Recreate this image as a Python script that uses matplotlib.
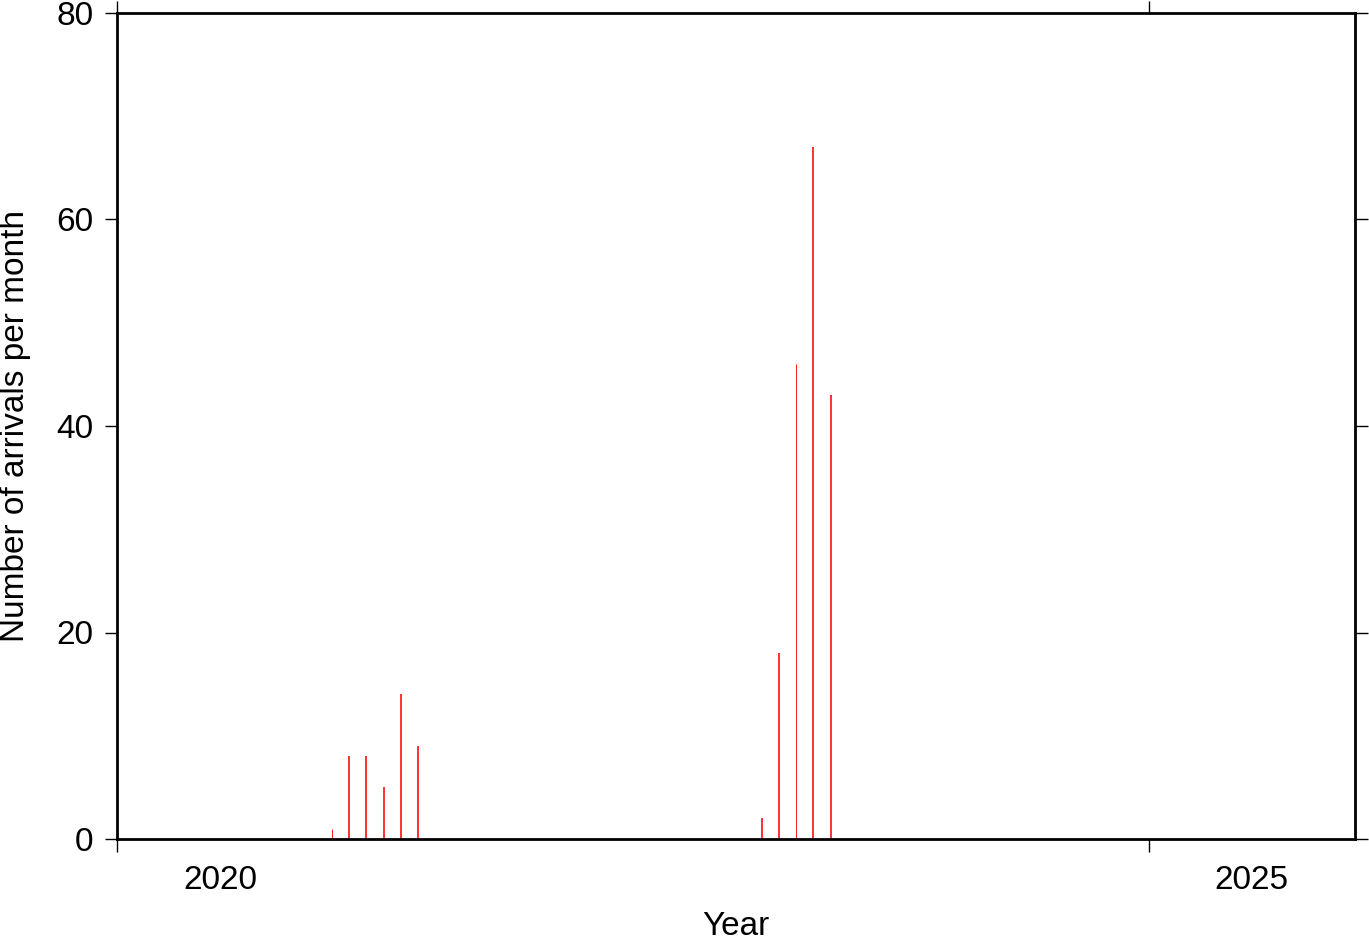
import numpy as np
import matplotlib
matplotlib.use("Agg")
import matplotlib.pyplot as plt
from matplotlib.ticker import FixedLocator, NullFormatter, FixedFormatter

# monthly arrival counts
months = ["2021-01", "2021-02", "2021-03", "2021-04", "2021-05", "2021-06",
          "2023-02", "2023-03", "2023-04", "2023-05", "2023-06"]
counts = [1, 8, 8, 5, 14, 9, 2, 18, 46, 67, 43]
widths = [1.0, 1.8, 1.8, 1.8, 1.8, 1.8, 1.8, 1.8, 1.0, 1.8, 1.8]

year_ticks = [2020, 2025]
year_labels = ["2020", "2025"]
y_ticks = [0, 20, 40, 60, 80]


def month_to_year(m):
    y, mo = m.split("-")
    return int(y) + (int(mo) - 0.5) / 12.0


plt.rcParams.update({
    "font.family": ["Liberation Sans", "DejaVu Sans"],
    "font.size": 24,
})

fig = plt.figure(figsize=(13.69, 9.42), dpi=100)
ax = fig.add_axes([117 / 1369, 1 - 839 / 942, (1355 - 117) / 1369, (839 - 13) / 942])

xs = [month_to_year(m) for m in months]
for x, c, w in zip(xs, counts, widths):
    ax.vlines(x, 0, c, color="#ff2020", lw=w * 0.72)

ax.set_xlim(2020, 2026)
ax.set_ylim(0, 80)

# major ticks at the year start, labels centred in the year interval
ax.xaxis.set_major_locator(FixedLocator(year_ticks))
ax.xaxis.set_major_formatter(NullFormatter())
ax.xaxis.set_minor_locator(FixedLocator([y + 0.5 for y in year_ticks]))
ax.xaxis.set_minor_formatter(FixedFormatter(year_labels))
ax.tick_params(axis="x", which="major", direction="out", length=9, width=1,
               top=True, bottom=True)
ax.tick_params(axis="x", which="minor", length=0, pad=19, labelsize=24)

ax.set_yticks(y_ticks)
ax.tick_params(axis="y", direction="out", length=9, width=1, left=True,
               right=True, pad=8, labelsize=24)

for s in ax.spines.values():
    s.set_linewidth(2.0)

ax.set_xlabel("Year", fontsize=24)
ax.xaxis.set_label_coords(0.5, -0.106)
ax.xaxis.label.set_va("center")
ax.set_ylabel("Number of arrivals per month", fontsize=24)
ax.yaxis.set_label_coords(-0.082, 0.5)
ax.yaxis.label.set_va("center")

fig.savefig("out.png", dpi=100)
